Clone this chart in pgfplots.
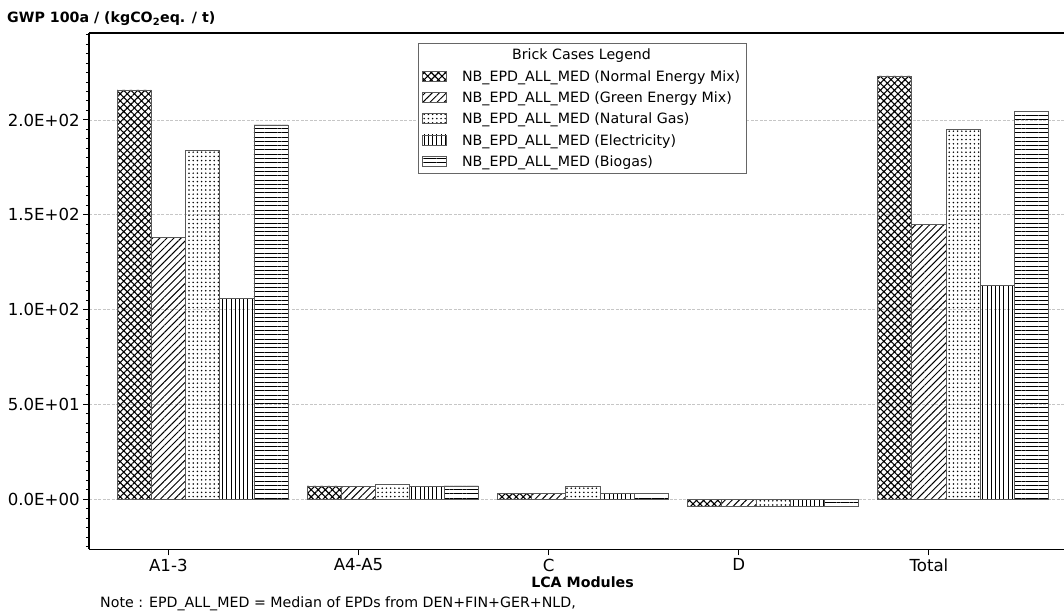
\documentclass[border=0pt]{standalone}
\usepackage{fontspec}
\setmainfont{DejaVu Sans}
\usepackage{pgfplots}
\usepackage{pgfplotstable}
\pgfplotsset{compat=1.18}
\usetikzlibrary{patterns.meta}

% GWP 100a per LCA module (kgCO2eq. / t) for five brick production cases
\pgfplotstableread{
x normal green gas elec bio
0 215.8 138.2 183.8 106.0 197.4
1 7.0 6.7 7.9 6.7 7.0
2 3.2 3.2 7.0 3.2 3.2
3 -3.5 -3.6 -3.9 -3.5 -3.6
4 223.2 145.0 194.9 112.8 204.4
}\brickdata

\begin{document}
\begin{tikzpicture}
\pgfplotsset{
  brick/.style={ybar, bar width=0.18, draw=black!65, line width=0.7pt,
    pattern color=black,
    legend image code/.code={\draw[##1] (0pt,-4.5pt) rectangle (24pt,5.5pt);}},
}
\begin{axis}[
  name=ax, at={(0,0)}, anchor=south west,
  scale only axis, width=974.7pt, height=516pt,
  xmin=-0.4158, xmax=4.7105, ymin=-26.4, ymax=245.7,
  axis x line=box, axis y line=left,
  axis line style={-, line width=1.6pt, black},
  xtick pos=bottom, ytick pos=left, tick align=outside,
  xtick={0,1,2,3,4}, xticklabels={A1-3,A4-A5,C,D,Total},
  ytick={0,50,100,150,200},
  yticklabels={0.0E+00,5.0E+01,1.0E+02,1.5E+02,2.0E+02},
  minor ytick={-25,-20,...,245},
  major tick length=6pt, minor tick length=3.5pt,
  every tick/.style={black, line width=1pt},
  ticklabel style={font=\fontsize{16.6}{19}\selectfont},
  ymajorgrids,
  major grid style={gray!45, line width=0.8pt, dash pattern=on 3pt off 1.5pt},
  legend style={at={(axis description cs:0,1)}, anchor=north west,
    xshift=328.7pt, yshift=-10pt,
    draw=gray!80!black, line width=0.8pt,
    font=\fontsize{14.2}{17}\selectfont,
    inner xsep=4pt, inner ysep=3.5pt, row sep=5pt,
    /tikz/every odd column/.append style={column sep=13pt}},
  legend cell align=left,
]
\addlegendimage{empty legend}
\addlegendentry{\hspace*{50pt}Brick Cases Legend}
\addplot[brick, bar shift=-0.18,
  pattern={Hatch[angle=45,distance=5pt,line width=1.1pt]}]
  table[x=x,y=normal]{\brickdata};
\addlegendentry{NB\_EPD\_ALL\_MED (Normal Energy Mix)}
\addplot[brick, bar shift=0,
  pattern={Lines[angle=45,distance=5pt,line width=0.95pt]}]
  table[x=x,y=green]{\brickdata};
\addlegendentry{NB\_EPD\_ALL\_MED (Green Energy Mix)}
\addplot[brick, bar shift=0.18,
  pattern={Dots[distance=4.2pt,radius=0.85pt]}]
  table[x=x,y=gas]{\brickdata};
\addlegendentry{NB\_EPD\_ALL\_MED (Natural Gas)}
\addplot[brick, bar shift=0.36,
  pattern={Lines[angle=90,distance=4.2pt,line width=0.95pt]}]
  table[x=x,y=elec]{\brickdata};
\addlegendentry{NB\_EPD\_ALL\_MED (Electricity)}
\addplot[brick, bar shift=0.54,
  pattern={Lines[angle=0,distance=4.3pt,line width=0.95pt]}]
  table[x=x,y=bio]{\brickdata};
\addlegendentry{NB\_EPD\_ALL\_MED (Biogas)}
\end{axis}
\node[anchor=base west, font=\bfseries\fontsize{14.2}{17}\selectfont, inner sep=0pt]
  at ([xshift=-82.3pt,yshift=10.5pt]ax.north west)
  {GWP 100a / (kgCO\textsubscript{2}eq. / t)};
\node[anchor=base, font=\bfseries\fontsize{14.2}{17}\selectfont, inner sep=0pt]
  at ([xshift=493.2pt,yshift=-38.2pt]ax.south west) {LCA Modules};
\node[anchor=base west, font=\fontsize{14.2}{17}\selectfont, inner sep=0pt]
  at ([xshift=10.7pt,yshift=-57.7pt]ax.south west)
  {Note : EPD\_ALL\_MED = Median of EPDs from DEN+FIN+GER+NLD,};
\pgfresetboundingbox
\path ([xshift=-89.3pt,yshift=-60.7pt]ax.south west) rectangle ([yshift=33.3pt]ax.north east);
\end{tikzpicture}
\end{document}
